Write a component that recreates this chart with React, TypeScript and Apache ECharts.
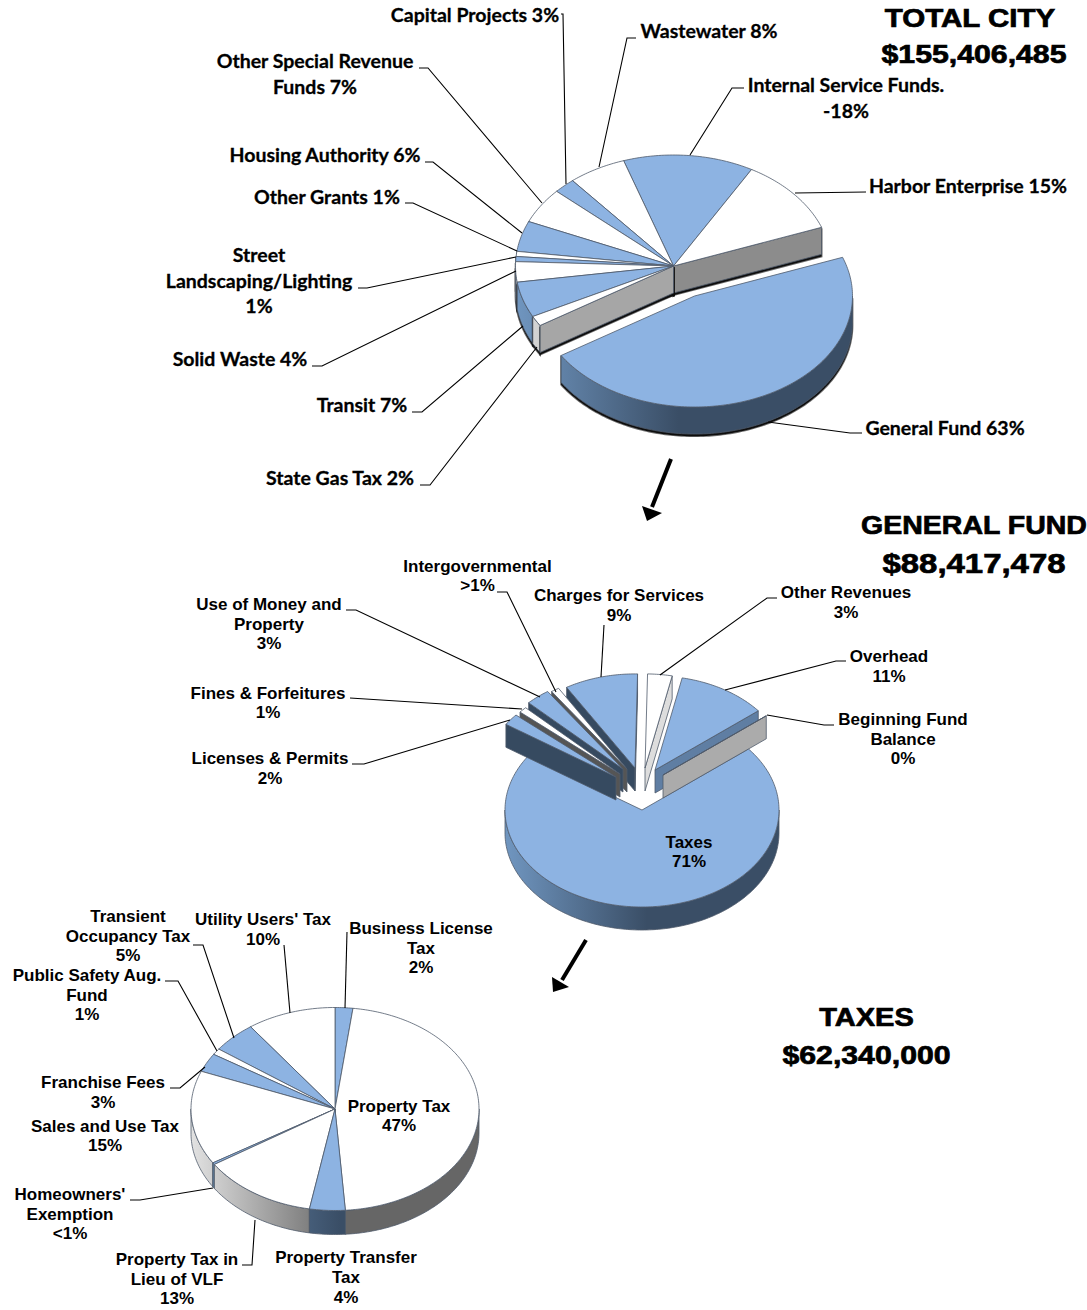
import React, { useEffect, useRef } from "react";
import * as echarts from "echarts";

// ---------- data ----------
const cityNames = ["General Fund", "State Gas Tax", "Transit", "Solid Waste", "Street Landscaping/Lighting", "Other Grants", "Housing Authority", "Other Special Revenue Funds", "Capital Projects", "Wastewater", "Internal Service Funds", "Harbor Enterprise"];
const cityValues = [63, 2, 7, 4, 1, 1, 6, 7, 3, 8, 18, 15];
const cityLabels = ["General Fund 63%", "State Gas Tax 2%", "Transit 7%", "Solid Waste 4%", "Street\nLandscaping/Lighting\n1%", "Other Grants 1%", "Housing Authority 6%", "Other Special Revenue\nFunds 7%", "Capital Projects 3%", "Wastewater 8%", "Internal Service Funds.\n-18%", "Harbor Enterprise 15%"];

const fundNames = ["Taxes", "Licenses & Permits", "Fines & Forfeitures", "Use of Money and Property", "Intergovernmental", "Charges for Services", "Other Revenues", "Overhead", "Beginning Fund Balance"];
const fundValues = [71, 2, 1, 3, 1, 9, 3, 11, 0];
const fundLabels = ["Taxes\n71%", "Licenses & Permits\n2%", "Fines & Forfeitures\n1%", "Use of Money and\nProperty\n3%", "Intergovernmental\n>1%", "Charges for Services\n9%", "Other Revenues\n3%", "Overhead\n11%", "Beginning Fund\nBalance\n0%"];

const taxNames = ["Business License Tax", "Property Tax", "Property Transfer Tax", "Property Tax in Lieu of VLF", "Homeowners' Exemption", "Sales and Use Tax", "Franchise Fees", "Public Safety Aug. Fund", "Transient Occupancy Tax", "Utility Users' Tax"];
const taxValues = [2, 47, 4, 13, 0.3, 15, 3, 1, 5, 10];
const taxLabels = ["Business License\nTax\n2%", "Property Tax\n47%", "Property Transfer\nTax\n4%", "Property Tax in\nLieu of VLF\n13%", "Homeowners'\nExemption\n<1%", "Sales and Use Tax\n15%", "Franchise Fees\n3%", "Public Safety Aug.\nFund\n1%", "Transient\nOccupancy Tax\n5%", "Utility Users' Tax\n10%"];

const titles = ["TOTAL CITY", "$155,406,485", "GENERAL FUND", "$88,417,478", "TAXES", "$62,340,000"];

// ---------- layout and style (no chart values below) ----------
const BLUE = "#8DB3E2";
const WHITE = "#FFFFFF";
const cityFills = [BLUE, WHITE, BLUE, WHITE, BLUE, WHITE, BLUE, WHITE, BLUE, WHITE, BLUE, WHITE];
const fundFills = [BLUE, BLUE, WHITE, BLUE, WHITE, BLUE, WHITE, BLUE, WHITE];
const taxFills = [BLUE, WHITE, BLUE, WHITE, BLUE, WHITE, BLUE, WHITE, BLUE, WHITE];
const cityFaces = ["#3a4e66", "#a6a6a6", "#3a4e66", "#a6a6a6", "#3a4e66", "#a6a6a6", "#3a4e66", "#a6a6a6", "#3a4e66", "#a6a6a6", "#3a4e66", "#8c8c8c"];
const fundFaces = ["#3a4e66", "#364a60", "#555555", "#364a60", "#555555", "#364a60", "#dddddd", "#5f7ea3", "#ababab"];
const taxFaces = taxFills.map((c) => (c === BLUE ? "#3a4e66" : "#777777"));
const noOffsets = (n: number) => Array.from({ length: n }, () => [0, 0]);
const cityOffsets = noOffsets(12);
cityOffsets[0] = [21, 30];
const fundOffsets = [[0, 0], [-26, -33], [-22, -36], [-19, -41], [-15, -41], [-7, -42], [3, -42], [13, -40], [21, -35]];

const cityLabelPos = [[945, 427], [340, 477], [362, 404], [240, 358], [259, 280], [327, 196], [325, 154], [315, 73.5], [475, 14], [709, 30], [846, 97.5], [968, 185]];
const fundLabelPos = [[689, 852], [270, 768.5], [268, 703], [269, 624], [477.5, 576], [619, 605.5], [846, 602.5], [889, 666.5], [903, 739]];
const taxLabelPos = [[421, 948], [399, 1116], [346, 1277.5], [177, 1279], [70, 1214], [105, 1136], [103, 1092.5], [87, 995], [128, 936], [263, 929.5]];
const titlePos = [[970, 18], [974, 54.5], [974, 526], [974, 564], [866.5, 1017.5], [866.5, 1055]];
const titleFonts = [25, 25, 25, 27, 25, 25];
const titleStretch = [1.18, 1.21, 1.14, 1.22, 1.16, 1.21];

const cityLeaders = [
  [[862, 433], [850, 433], [768, 422]], [[420, 485], [430, 485], [537, 347]], [[412, 412], [422, 412], [523, 326]],
  [[312, 366], [322, 366], [516, 271]], [[358, 288], [367, 288], [516, 257]], [[405, 203], [413, 203], [517, 251]],
  [[425, 162], [433, 162], [522, 233]], [[419, 68], [428, 68], [542, 203]], [[561, 14], [563, 14], [566, 184]],
  [[636, 38], [627, 38], [599, 167]], [[744, 88], [732, 88], [690, 155]], [[866, 192], [795, 193]],
];
const fundLeaders = [
  [[497, 592], [507, 592], [556, 692]], [[604, 625], [601, 677]], [[777, 598], [767, 598], [660, 675]],
  [[346, 610], [356, 610], [540, 697]], [[846, 661], [836, 661], [725, 690]], [[834, 725], [824, 725], [767, 715]],
  [[350, 698], [522, 709]], [[352, 764], [364, 764], [510, 720]],
];
const taxLeaders = [
  [[193, 945], [203, 945], [234, 1038]], [[284, 945], [290, 1013]], [[347, 932], [345, 1008]],
  [[165, 981], [178, 981], [217, 1051]], [[170, 1088], [180, 1088], [205, 1067]],
  [[130, 1200], [140, 1200], [213, 1188]], [[242, 1265], [252, 1265], [255, 1220]],
];

type PieCfg = {
  names: string[]; values: number[]; fills: string[]; faces: string[]; offsets: number[][];
  cx: number; cy: number; rx: number; ry: number; depth: number; start: number;
  rOf: (i: number) => number; shadow: boolean; strokeColor: string; blueLeft: string; greyLeft: string; greyRight: string;
};

const rad = (d: number) => (d * Math.PI) / 180;

function makePieSeries(cfg: PieCfg) {
  const total = cfg.values.reduce((a, b) => a + b, 0);
  let acc = cfg.start;
  const rows = cfg.values.map((v, i) => {
    const t0 = acc;
    const t1 = acc + (v / total) * 360;
    acc = t1;
    return { value: v, name: cfg.names[i], index: i, t0, t1 };
  });
  const rows2 = rows.slice().sort((a, b) => {
    const order = (r: typeof a) => {
      const extra = cfg.offsets[r.index][1] !== 0 ? Math.abs(Math.cos(rad((r.t0 + r.t1) / 2))) : Math.sin(rad((r.t0 + r.t1) / 2));
      return cfg.offsets[r.index][1] < 0 ? 2 + extra : cfg.offsets[r.index][1] > 0 ? 5 : extra;
    };
    return order(a) - order(b);
  });
  const blueGrad = new echarts.graphic.LinearGradient(cfg.cx - cfg.rx, 0, cfg.cx + 5, 0, [{ offset: 0, color: cfg.blueLeft }, { offset: 1, color: "#3a4e66" }], true);
  const greyGrad = new echarts.graphic.LinearGradient(cfg.cx - cfg.rx, 0, cfg.cx + 5, 0, [{ offset: 0, color: cfg.greyLeft }, { offset: 1, color: cfg.greyRight }], true);

  return {
    type: "custom",
    coordinateSystem: "none",
    silent: true,
    clip: false,
    data: rows2.map((r) => ({ name: r.name, value: [r.value, r.t0, r.t1, r.index] })),
    renderItem: (_p: any, api: any) => {
      const t0 = api.value(1);
      const t1 = api.value(2);
      const idx = api.value(3);
      const [ox, oy] = cfg.offsets[idx];
      const ax = cfg.cx + ox;
      const ay = cfg.cy + oy;
      const r = cfg.rOf(idx);
      const rx = cfg.rx * r;
      const ry = cfg.ry * r;
      const pt = (t: number, dz = 0) => [ax + rx * Math.cos(rad(t)), ay + ry * Math.sin(rad(t)) + dz];
      const arc = (a: number, b: number, dz = 0) => {
        const out: number[][] = [];
        const n = Math.max(1, Math.ceil(Math.abs(b - a)));
        for (let k = 0; k <= n; k++) out.push(pt(a + ((b - a) * k) / n, dz));
        return out;
      };
      const isBlue = cfg.fills[idx] === BLUE;
      const line = { stroke: cfg.strokeColor, lineWidth: 0.8 };
      const children: any[] = [];
      const solid = (points: number[][], fill: any) => {
        if (cfg.shadow) {
          children.push({
            type: "polygon",
            y: 2.2,
            shape: { points },
            style: { fill: "#111111", stroke: "rgba(10,10,10,0.6)", lineWidth: 1.8 },
          });
        }
        children.push({ type: "polygon", shape: { points }, style: { fill, ...line } });
      };
      const face = (t: number) => solid([[ax, ay], pt(t), pt(t, cfg.depth), [ax, ay + cfg.depth]], cfg.faces[idx]);
      // outer wall: only the part of the rim that faces the viewer
      for (const k of [-1, 0, 1]) {
        const a = Math.max(t0, k * 360);
        const b = Math.min(t1, k * 360 + 180);
        if (b > a) solid(arc(a, b).concat(arc(b, a, cfg.depth)), isBlue ? blueGrad : greyGrad);
      }
      // cut faces: only those whose outward side looks down the screen
      if (Math.cos(rad(t0)) < 0) face(t0);
      if (Math.cos(rad(t1)) > 0) face(t1);
      children.push({
        type: "polygon",
        shape: { points: [[ax, ay], ...arc(t0, t1)] },
        style: { fill: cfg.fills[idx], ...line, lineJoin: "round" },
      });
      return { type: "group", children };
    },
  };
}

const labelEls = (labels: string[], pos: number[][], font: string, lineHeight: number, stroke = 0) =>
  labels.map((text, i) => ({
    type: "text",
    z: 20,
    silent: true,
    style: { text, x: pos[i][0], y: pos[i][1], font, fill: "#000", stroke: stroke ? "#000" : undefined, lineWidth: stroke, align: "center", verticalAlign: "middle", lineHeight },
  }));

const leaderEls = (lines: number[][][]) =>
  lines.map((points) => ({
    type: "polyline",
    z: 15,
    silent: true,
    shape: { points },
    style: { stroke: "#000", lineWidth: 1.1, fill: "none" },
  }));

const arrow = (shaft: number[][], head: number[][]) => [
  { type: "line", z: 15, silent: true, shape: { x1: shaft[0][0], y1: shaft[0][1], x2: shaft[1][0], y2: shaft[1][1] }, style: { stroke: "#000", lineWidth: 4 } },
  { type: "polygon", z: 15, silent: true, shape: { points: head }, style: { fill: "#000" } },
];

export default function App() {
  const ref = useRef<HTMLDivElement>(null);
  useEffect(() => {
    const chart = echarts.init(ref.current!, null, { renderer: "svg" });
    const common = { strokeColor: "#4f5b6b", blueLeft: "#7096c0", greyLeft: "#e2e2e2", greyRight: "#666666" };
    const series = [
      makePieSeries({ ...common, names: cityNames, values: cityValues, fills: cityFills, faces: cityFaces, offsets: cityOffsets, cx: 673.5, cy: 266, rx: 158, ry: 111, depth: 27, start: -20.4, rOf: () => 1, shadow: true }),
      makePieSeries({ ...common, names: fundNames, values: fundValues, fills: fundFills, faces: fundFaces, offsets: fundOffsets, cx: 642, cy: 810, rx: 137, ry: 97, depth: 23, start: -39, rOf: (i) => (i === 0 ? 1 : 0.97), shadow: false }),
      makePieSeries({ ...common, names: taxNames, values: taxValues, fills: taxFills, faces: taxFaces, offsets: noOffsets(10), cx: 335, cy: 1109, rx: 144, ry: 101.5, depth: 24, start: -90, rOf: () => 1, shadow: false }),
    ];
    chart.setOption({
      animation: false,
      backgroundColor: "#ffffff",
      series,
      graphic: {
        elements: [
          ...leaderEls(cityLeaders),
          ...leaderEls(fundLeaders),
          ...leaderEls(taxLeaders),
          ...labelEls(cityLabels, cityLabelPos, "bold 19.5px Lato", 25.5, 0.3),
          ...labelEls(fundLabels, fundLabelPos, "bold 17px 'Liberation Sans'", 19.7),
          ...labelEls(taxLabels, taxLabelPos, "bold 17px 'Liberation Sans'", 19.7),
          ...titles.map((text, i) => ({
            type: "text",
            z: 20,
            silent: true,
            x: titlePos[i][0],
            y: titlePos[i][1],
            scaleX: titleStretch[i],
            style: { text, x: 0, y: 0, font: `bold ${titleFonts[i]}px 'Liberation Sans'`, fill: "#000", stroke: "#000", lineWidth: 0.7, align: "center", verticalAlign: "middle" },
          })),
          ...arrow([[671, 459], [652, 507]], [[647, 521], [642, 506], [662, 513]]),
          ...arrow([[586, 940], [562, 980]], [[553, 992], [552, 977], [569, 987]]),
        ],
      },
    });
    return () => chart.dispose();
  }, []);
  return <div ref={ref} style={{ position: "fixed", left: 0, top: 0, width: 1087, height: 1310 }} />;
}
